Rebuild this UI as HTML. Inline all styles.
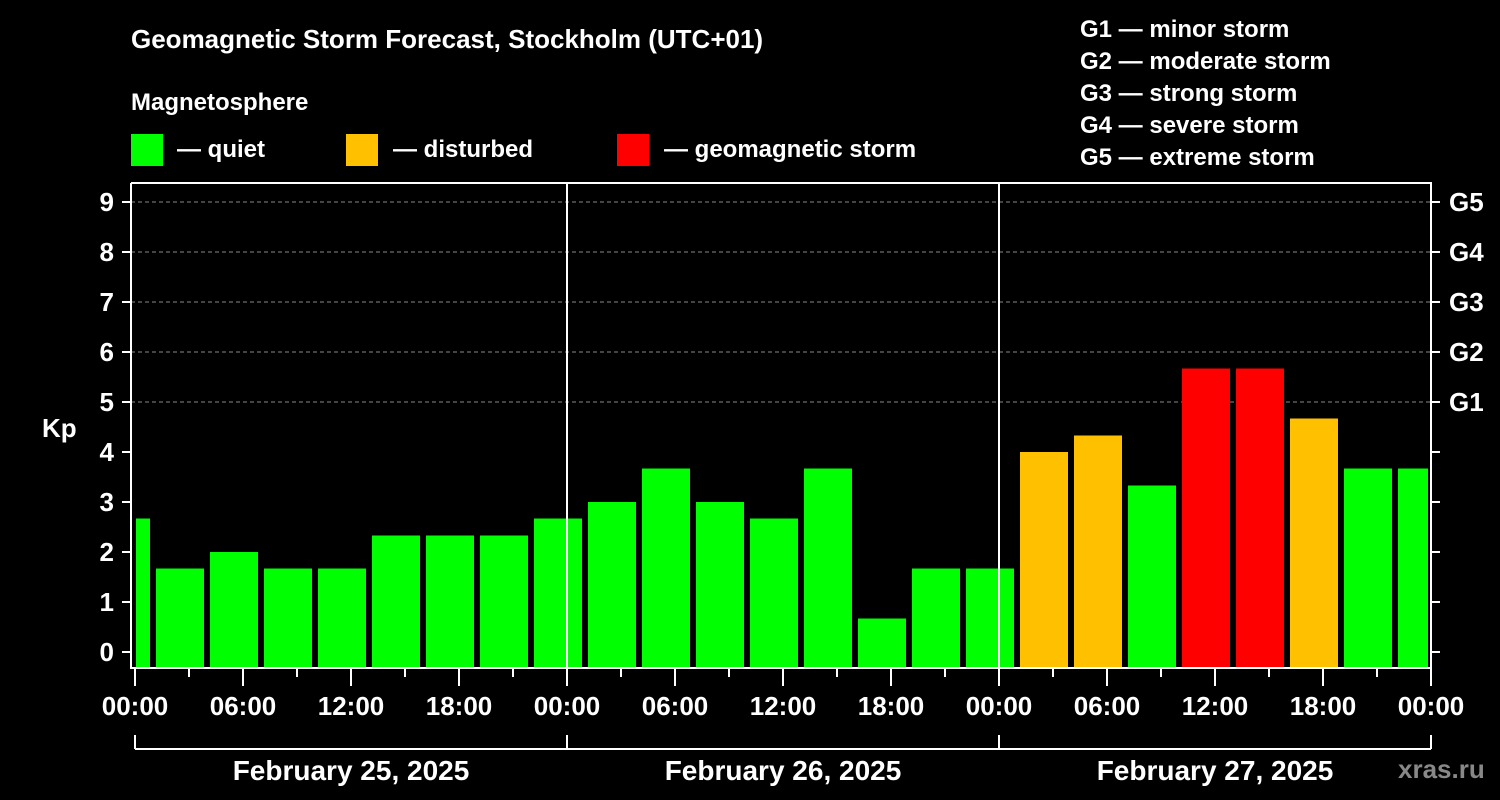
<!DOCTYPE html>
<html><head><meta charset="utf-8"><style>
html,body{margin:0;padding:0;background:#000;}
svg{display:block;font-family:"Liberation Sans",sans-serif;font-weight:bold;}
</style></head><body>
<svg id="chart" width="1500" height="800" viewBox="0 0 1500 800">
<rect width="1500" height="800" fill="#000"/>
<text x="131" y="48" fill="#fff" font-size="26">Geomagnetic Storm Forecast, Stockholm (UTC+01)</text>
<text x="131" y="110" fill="#fff" font-size="24">Magnetosphere</text>
<g><rect x="131" y="134" width="32" height="32" fill="#00ff00"/><text x="177" y="157" fill="#fff" font-size="24">— quiet</text></g>
<g><rect x="346" y="134" width="32" height="32" fill="#ffc000"/><text x="393" y="157" fill="#fff" font-size="24">— disturbed</text></g>
<g><rect x="617" y="134" width="32" height="32" fill="#ff0000"/><text x="664" y="157" fill="#fff" font-size="24">— geomagnetic storm</text></g>
<g fill="#fff" font-size="24">
<text x="1080" y="37">G1 — minor storm</text>
<text x="1080" y="69">G2 — moderate storm</text>
<text x="1080" y="101">G3 — strong storm</text>
<text x="1080" y="133">G4 — severe storm</text>
<text x="1080" y="165">G5 — extreme storm</text>
</g>
<text x="42" y="437" fill="#fff" font-size="26">Kp</text>
<text x="1398" y="778" fill="#888" font-size="26">xras.ru</text>
<g id="grid"></g><g id="bars"></g><g id="axes"></g>
</svg>
<script>
const kpValues=[2.67,1.67,2,1.67,1.67,2.33,2.33,2.33,2.67,3,3.67,3,2.67,3.67,0.67,1.67,1.67,4,4.33,3.33,5.67,5.67,4.67,3.67,3.67];
const barLevels=["q","q","q","q","q","q","q","q","q","q","q","q","q","q","q","q","q","d","d","q","s","s","d","q","q"];
const yTicks=[0,1,2,3,4,5,6,7,8,9];
const gLabels=["G1","G2","G3","G4","G5"];
const gKp=[5,6,7,8,9];
const xLabels=["00:00","06:00","12:00","18:00","00:00","06:00","12:00","18:00","00:00","06:00","12:00","18:00","00:00"];
const dayLabels=["February 25, 2025","February 26, 2025","February 27, 2025"];
const NS="http://www.w3.org/2000/svg";
const L=131,R=1431,T=183,B=668,X0=135,PXH=18;
const y=v=>652-v*50;
const x=h=>X0+h*PXH;
const col={q:"#00ff00",d:"#ffc000",s:"#ff0000"};
function mk(t,a,p){const e=document.createElementNS(NS,t);for(const k in a)e.setAttribute(k,a[k]);p.appendChild(e);return e;}
const grid=document.getElementById('grid'),bars=document.getElementById('bars'),axes=document.getElementById('axes');
gKp.forEach(v=>{
const g=mk('line',{x1:L,x2:R,y1:y(v),y2:y(v),stroke:'#888','stroke-dasharray':'4,3','stroke-width':1},grid);


});
kpValues.forEach((v,i)=>{
const c=-0.5+3*i; // center hour
let x1=x(c)-24,x2=x(c)+24;
x1=Math.max(x1,L+5);x2=Math.min(x2,R-3);
const r=mk('rect',{x:x1,y:y(v),width:x2-x1,height:B-1-y(v),fill:col[barLevels[i]]},bars);


});
const st={stroke:'#fff','stroke-width':2};
mk('polyline',{points:`${L},${T} ${R},${T} ${R},${B} ${L},${B} ${L},${T}`,fill:'none',...st},axes);
[1,2].forEach(d=>{const l=mk('line',{x1:x(24*d),x2:x(24*d),y1:T,y2:B,...st},axes);

});
yTicks.forEach(v=>{
mk('line',{x1:L-9,x2:L,y1:y(v),y2:y(v),...st},axes);
mk('line',{x1:R,x2:R+9,y1:y(v),y2:y(v),...st},axes);
const t=mk('text',{x:L-17,y:y(v)+9,fill:'#fff','font-size':26,'text-anchor':'end'},axes);t.textContent=v;


});
gLabels.forEach((g,i)=>{
const t=mk('text',{x:1449,y:y(gKp[i])+9,fill:'#fff','font-size':26},axes);t.textContent=g;


});
for(let h=0;h<=72;h+=3){
const major=h%6===0;
mk('line',{x1:x(h),x2:x(h),y1:B,y2:B+(major?18:9),...st},axes);
}
xLabels.forEach((s,i)=>{
const t=mk('text',{x:x(6*i),y:715,fill:'#fff','font-size':26,'text-anchor':'middle'},axes);t.textContent=s;


});
mk('line',{x1:x(0),x2:x(72),y1:749,y2:749,...st},axes);
[0,24,48,72].forEach(h=>mk('line',{x1:x(h),x2:x(h),y1:735,y2:749,...st},axes));
dayLabels.forEach((s,i)=>{
const t=mk('text',{x:x(24*i+12),y:780,fill:'#fff','font-size':28,'text-anchor':'middle'},axes);t.textContent=s;


});
</script>
</body></html>
